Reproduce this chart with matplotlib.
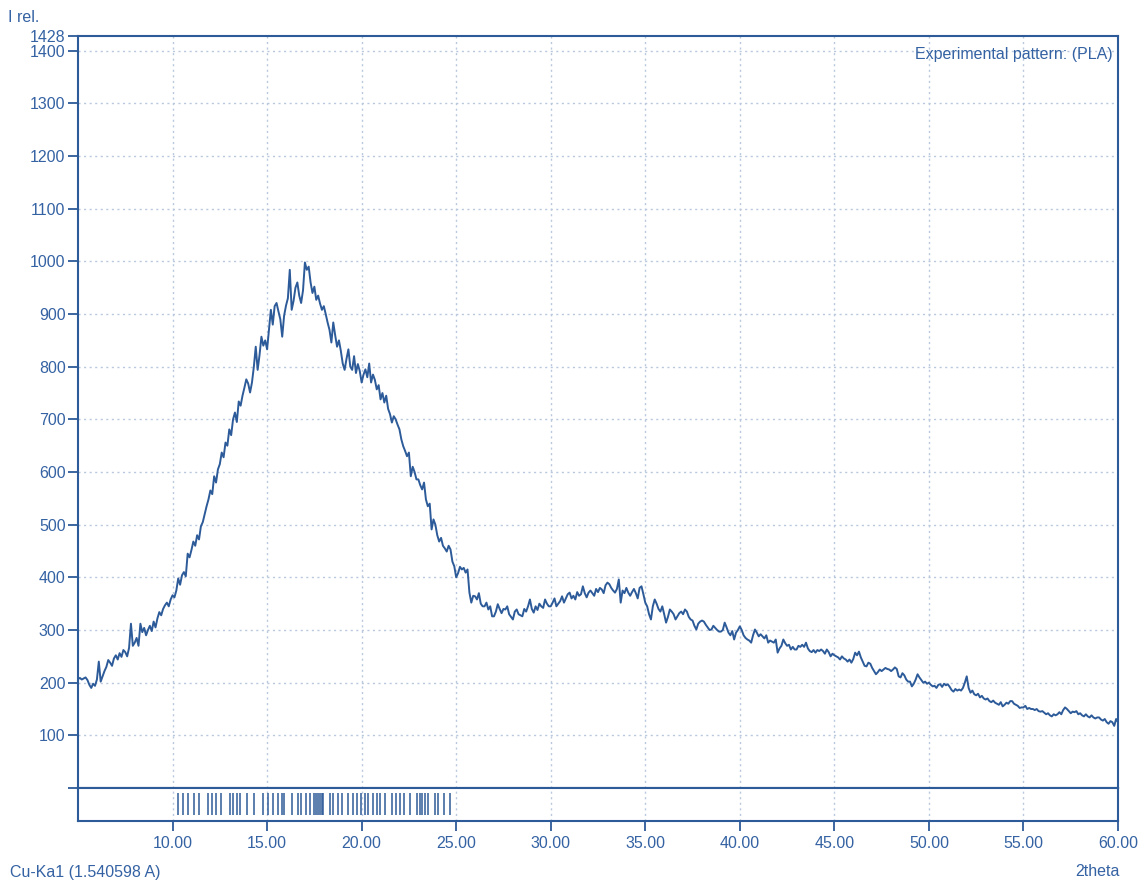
import numpy as np
import matplotlib
matplotlib.use("Agg")
import matplotlib.pyplot as plt

# ---------------- data ----------------
two_theta_start = 5.0
two_theta_step = 0.1
intensity = [
    207,209,206,208,210,205,196,190,198,194,
    206,240,202,212,222,230,243,238,232,246,
    252,244,256,249,262,258,250,266,312,270,
    276,285,270,312,296,304,290,300,308,298,
    316,305,322,334,328,340,347,352,345,358,
    366,362,375,398,386,404,410,402,445,438,
    452,468,460,480,472,497,505,520,535,548,
    565,558,592,580,605,615,637,628,656,650,
    681,670,700,713,695,734,726,745,760,776,
    768,751,770,800,838,794,822,857,840,850,
    833,870,908,880,915,921,905,890,857,897,
    916,930,984,908,925,950,960,935,921,945,
    998,984,990,960,940,952,927,935,920,908,
    915,900,884,870,846,884,860,838,850,830,
    806,794,815,833,800,794,820,788,805,792,
    770,785,795,780,806,770,785,775,757,765,
    738,750,732,745,720,710,694,706,700,690,
    681,662,649,640,630,637,592,610,600,586,
    586,575,567,580,548,535,540,491,510,500,
    480,468,475,460,455,449,460,453,430,421,
    400,408,420,415,418,409,415,371,352,365,
    364,358,370,350,345,345,352,339,345,326,
    326,335,349,340,332,340,339,345,330,325,
    320,335,339,330,328,326,340,335,345,358,
    340,333,345,338,350,345,342,358,350,345,
    345,352,360,345,350,355,364,352,360,368,
    371,360,365,358,372,365,368,383,370,362,
    371,375,370,365,378,372,380,377,370,385,
    390,387,380,375,371,378,396,352,375,370,
    380,371,365,372,378,370,360,380,383,368,
    352,345,330,320,345,358,350,340,335,345,
    330,314,325,339,335,330,320,326,332,335,
    330,339,335,325,320,318,308,301,312,316,
    318,316,310,305,300,301,308,304,300,297,
    297,300,314,305,295,290,298,282,295,300,
    307,300,290,285,282,280,276,290,301,295,
    288,292,288,284,290,276,280,278,276,282,
    257,265,270,282,275,270,272,263,268,263,
    263,270,268,272,268,276,265,260,258,262,
    257,262,260,263,260,255,263,258,250,255,
    252,250,248,244,250,246,244,240,244,238,
    245,257,252,259,248,240,232,231,238,236,
    228,222,216,220,225,222,225,228,226,225,
    222,225,229,226,212,210,218,214,206,202,
    202,193,198,206,216,210,205,200,202,198,
    200,196,193,194,190,196,197,192,198,195,
    197,192,186,183,188,185,187,185,190,200,
    212,190,181,185,178,176,179,172,175,170,
    168,170,165,163,166,162,160,158,163,155,
    158,162,160,165,165,160,158,156,152,153,
    153,156,150,152,150,150,148,150,146,145,
    146,143,140,142,138,136,140,138,140,144,
    140,148,153,150,146,142,145,144,146,140,
    142,138,136,140,136,134,138,134,132,134,
    134,130,128,131,125,122,127,125,118,131,
    125,
]
reflections = [
    10.28, 10.55, 10.81, 11.11, 11.42, 11.90, 12.08, 12.31, 12.57, 13.04,
    13.22, 13.40, 13.57, 13.93, 14.33, 14.77, 15.07, 15.30, 15.56, 15.77,
    15.91, 16.30, 16.62, 16.79, 17.06, 17.27, 17.48, 17.58, 17.70, 17.79,
    17.88, 17.97, 18.32, 18.50, 18.73, 18.94, 19.29, 19.55, 19.73, 19.96,
    20.17, 20.34, 20.61, 20.79, 20.96, 21.23, 21.63, 21.84, 22.02, 22.24,
    22.54, 22.95, 23.07, 23.21, 23.33, 23.51, 23.86, 24.04, 24.35, 24.65,
]
y_ticks = [100, 200, 300, 400, 500, 600, 700, 800, 900, 1000, 1100, 1200, 1300, 1400, 1428]
x_ticks = [10, 15, 20, 25, 30, 35, 40, 45, 50, 55, 60]
x_min, x_max = 5.0, 60.0
y_min, y_max = 0, 1428

two_theta = two_theta_start + two_theta_step * np.arange(len(intensity))

# ---------------- style ----------------
BLUE = '#2d5b99'
TEXT = '#3462a3'
GRID = '#b9c8dc'
plt.rcParams['font.family'] = ['Liberation Sans Narrow', 'Liberation Sans', 'DejaVu Sans']
FS = 11.5

W, H = 1145, 881
fig = plt.figure(figsize=(W / 100, H / 100), dpi=100)

L, R = 78 / W, 1118 / W
ax = fig.add_axes([L, 1 - 788 / H, R - L, (788 - 36) / H])
axb = fig.add_axes([L, 1 - 821 / H, R - L, 33 / H])

# main pattern
ax.plot(two_theta, intensity, color=BLUE, lw=1.4)
ax.set_xlim(x_min, x_max)
ax.set_ylim(y_min, y_max)
ax.set_yticks([0] + y_ticks)
ax.set_yticklabels([''] + [str(v) for v in y_ticks])
ax.set_xticks(x_ticks[:-1])
ax.tick_params(axis='x', length=0, labelbottom=False)
ax.tick_params(axis='y', direction='out', length=7, width=1.3, color=BLUE,
               labelcolor=TEXT, labelsize=FS, pad=2)
for v in y_ticks[:-1]:
    ax.axhline(v, color=GRID, lw=1.0, ls=(0, (1.5, 2.5)), zorder=0)
for v in x_ticks[:-1]:
    ax.axvline(v, color=GRID, lw=1.0, ls=(0, (1.5, 2.5)), zorder=0)
for s in ax.spines.values():
    s.set_color(BLUE)
    s.set_linewidth(1.5)

ax.text(0.995, 0.985, 'Experimental pattern: (PLA)', transform=ax.transAxes,
        ha='right', va='top', color=TEXT, fontsize=FS)

# reflection markers panel
axb.vlines(reflections, 0.18, 0.85, color=BLUE, lw=1.1)
axb.set_xlim(x_min, x_max)
axb.set_ylim(0, 1)
axb.set_yticks([])
axb.set_xticks(x_ticks)
axb.set_xticklabels([f'{v:.2f}' for v in x_ticks])
axb.tick_params(axis='x', direction='out', length=7, width=1.3, color=BLUE,
                labelcolor=TEXT, labelsize=FS, pad=4)
for v in x_ticks[:-1]:
    axb.axvline(v, color=GRID, lw=1.0, ls=(0, (1.5, 2.5)), zorder=0)
for s in axb.spines.values():
    s.set_color(BLUE)
    s.set_linewidth(1.5)

fig.text(8 / W, 1 - 18 / H, 'I rel.', color=TEXT, fontsize=FS, ha='left', va='center')
fig.text(10 / W, 1 - 872 / H, 'Cu-Ka1 (1.540598 A)', color=TEXT, fontsize=FS,
         ha='left', va='center')
fig.text(1120 / W, 1 - 872 / H, '2theta', color=TEXT, fontsize=FS,
         ha='right', va='center')

fig.savefig('out.png', dpi=100, facecolor='white')
